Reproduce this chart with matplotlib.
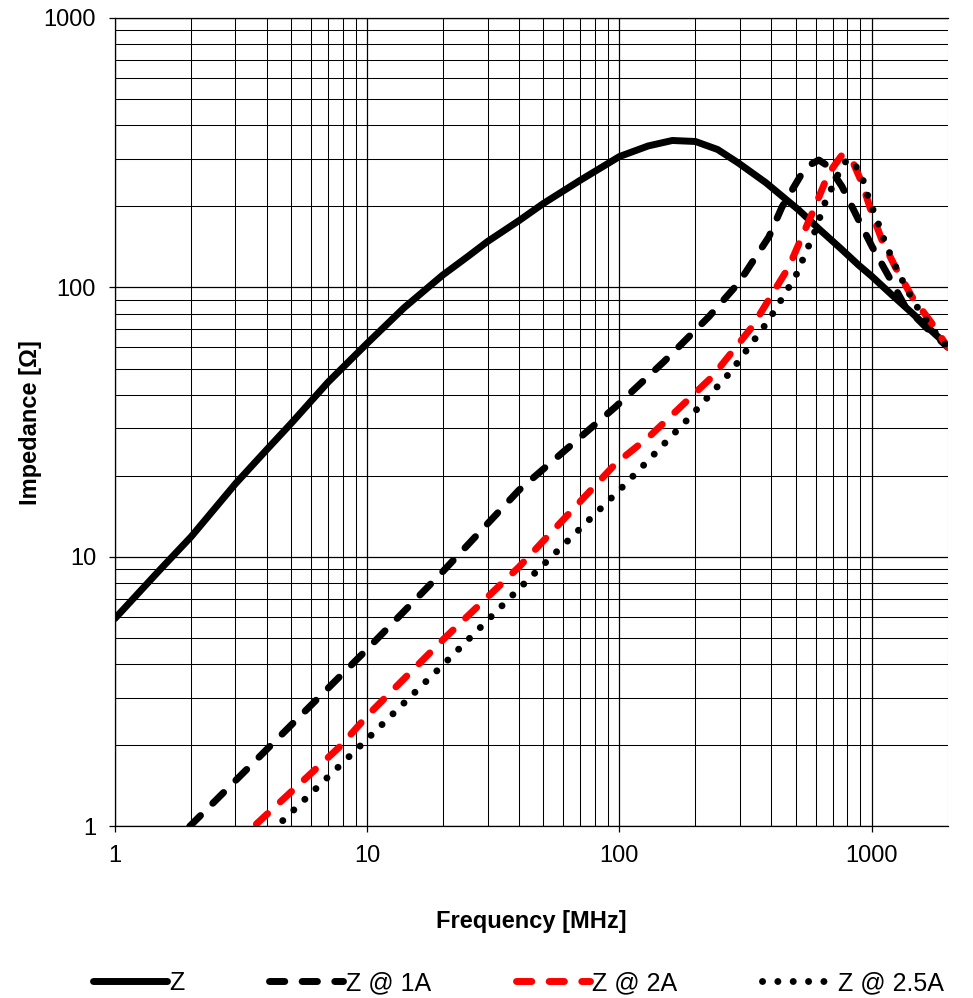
import matplotlib.pyplot as plt
from matplotlib.ticker import LogLocator, NullFormatter, FixedLocator, FixedFormatter

plt.rcParams['font.family'] = ['Liberation Sans', 'DejaVu Sans']

# Frequency [MHz] / impedance [Ohm]
f_z = [1, 1.5, 2.01, 3.01, 4, 5.0, 7, 10, 14, 19.9, 25, 30, 40, 50, 70, 100,
       130, 162, 200, 245, 297, 380, 469, 513, 617, 750, 887, 1000, 1199, 1400,
       1630, 1850, 2000]
z_z = [5.9, 8.9, 11.9, 18.7, 25, 31.3, 44.5, 62, 84, 111, 130, 148, 177, 205, 250,
       306, 335, 351, 348, 325, 289, 245, 208, 194, 165, 140, 121, 110, 94, 82.5,
       72.4, 65, 60.5]

f_1a = [1.98, 3.98, 9.9, 19.9, 40, 96.7, 150, 226, 297, 391, 441, 529, 580, 617, 675,
        762, 887, 1002, 1167, 1358, 1630, 2000]
z_1a = [1.0, 1.92, 4.5, 8.8, 17.7, 36.1, 53, 77.8, 104, 154, 199, 265, 288, 297, 281,
        237, 178, 142, 110, 84.8, 71.5, 60]

f_2a = [3.64, 7.77, 10.2, 19.9, 40, 96.7, 131, 180, 233, 336, 469, 580, 675, 762,
        835, 915, 1002, 1097, 1240, 1443, 1730, 2000]
z_2a = [1.02, 1.97, 2.62, 4.91, 9.18, 22.2, 27.9, 37, 46.6, 71.5, 119, 188, 265, 310,
        297, 244, 188, 150, 119, 92.4, 73.6, 60]

f_25a = [4.63, 9.76, 20.5, 42.6, 100, 123, 190, 276, 391, 499, 598, 655, 739, 798,
         860, 929, 972, 1049, 1132, 1277, 1465, 1730, 2000]
z_25a = [1.05, 2.06, 4.07, 8.08, 17.7, 21.6, 33, 48.6, 75.7, 110, 163, 208, 265, 299,
         285, 247, 214, 178, 146, 113, 88.5, 70.5, 60]

tick_vals = [1, 10, 100, 1000]
tick_text = ['1', '10', '100', '1000']

fig = plt.figure(figsize=(9.73, 9.98), dpi=100)
ax = fig.add_axes([0.118, 0.172, 0.856, 0.810])

lw = 5
ax.plot(f_z, z_z, color='black', lw=lw, solid_capstyle='round',
        solid_joinstyle='round', label='Z')
ax.plot(f_1a, z_1a, color='black', lw=lw, linestyle=(0, (2.2, 2.5)),
        dash_capstyle='round', dash_joinstyle='round', label='Z @ 1A')
ax.plot(f_2a, z_2a, color='red', lw=lw, linestyle=(0, (2.2, 2.5)),
        dash_capstyle='round', dash_joinstyle='round', label='Z @ 2A')
ax.plot(f_25a, z_25a, color='black', lw=lw, linestyle=(0, (0.01, 2.2)),
        dash_capstyle='round', label='Z @ 2.5A')

ax.set_xscale('log')
ax.set_yscale('log')
ax.set_xlim(1, 2000)
ax.set_ylim(1, 1000)

ax.xaxis.set_major_locator(FixedLocator(tick_vals))
ax.xaxis.set_major_formatter(FixedFormatter(tick_text))
ax.yaxis.set_major_locator(FixedLocator(tick_vals))
ax.yaxis.set_major_formatter(FixedFormatter(tick_text))
ax.xaxis.set_minor_locator(LogLocator(base=10, subs=range(2, 10)))
ax.yaxis.set_minor_locator(LogLocator(base=10, subs=range(2, 10)))
ax.xaxis.set_minor_formatter(NullFormatter())
ax.yaxis.set_minor_formatter(NullFormatter())

ax.grid(True, which='major', color='black', lw=0.9)
ax.grid(True, which='minor', color='black', lw=0.75)
ax.set_axisbelow(True)
ax.tick_params(which='major', direction='out', length=4.5, width=0.9,
               labelsize=17, pad=9)
ax.tick_params(which='minor', length=0)
for s in ax.spines.values():
    s.set_linewidth(0.9)
ax.spines['right'].set_visible(False)

ax.set_xlabel('Frequency [MHz]', fontsize=17, fontweight='bold')
ax.set_ylabel('Impedance [Ω]', fontsize=17, fontweight='bold')
ax.xaxis.set_label_coords(0.5, -0.103)
ax.yaxis.set_label_coords(-0.088, 0.5)

fig.legend(loc='center', bbox_to_anchor=(0.533, 0.015), ncol=4, frameon=False,
           fontsize=18, handlelength=2.95, handletextpad=0.1, columnspacing=3.4,
           borderaxespad=0)

fig.savefig('out.png', dpi=100)
